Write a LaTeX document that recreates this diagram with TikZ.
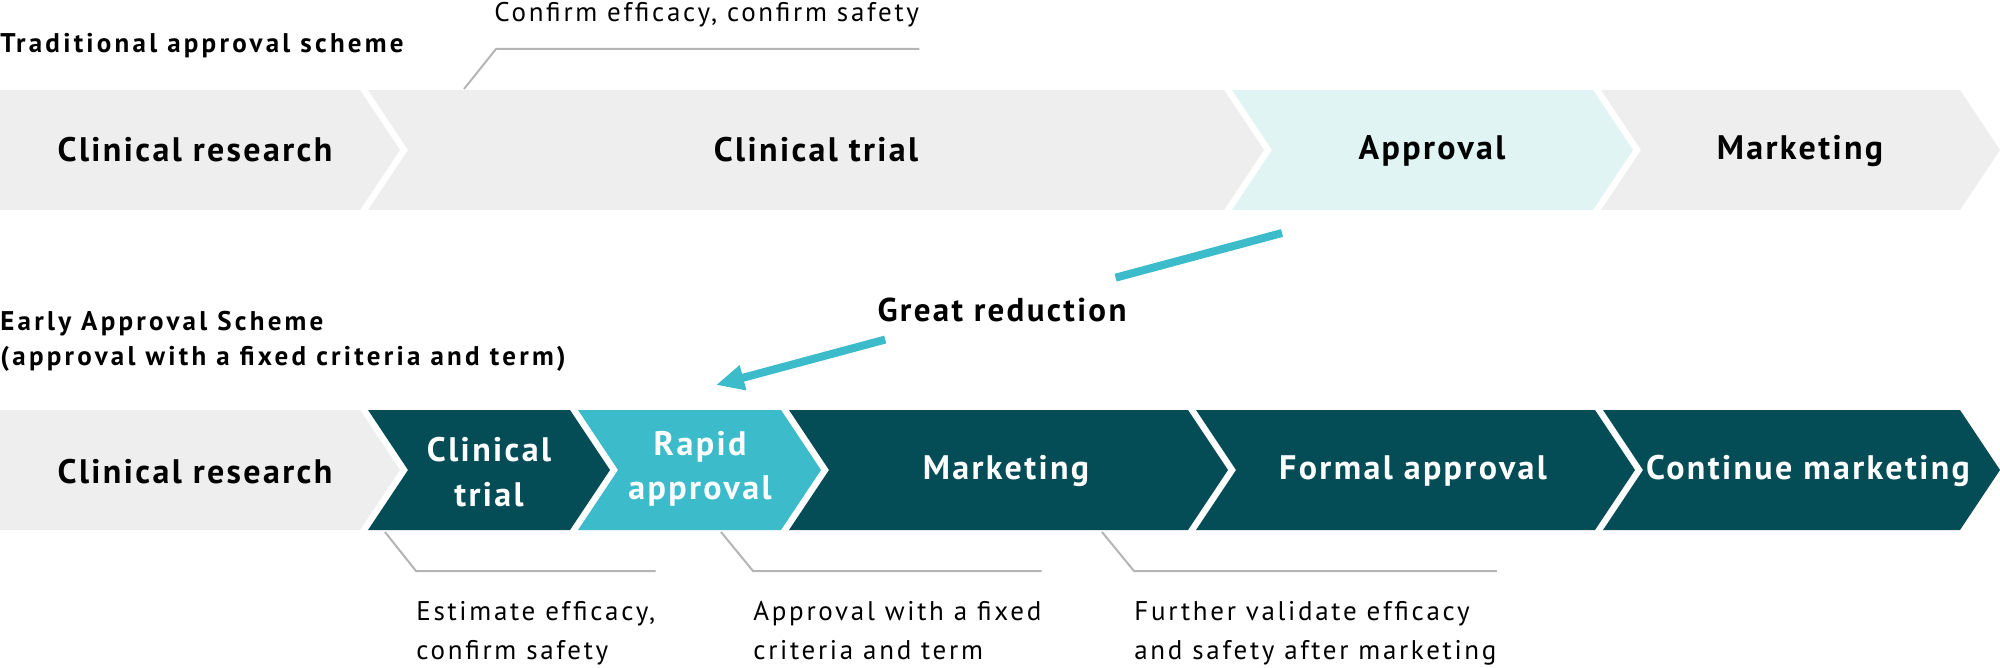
\documentclass[tikz,border=0pt]{standalone}
\usepackage{fontspec}
\setmainfont{PT Sans}
\newfontfamily\stepfont{PT Sans}[LetterSpace=7]
\newfontfamily\headfont{PT Sans}[LetterSpace=12]
\newfontfamily\notefont{PT Sans}[LetterSpace=10]
\usetikzlibrary{arrows.meta,calc}
\definecolor{stepgrey}{HTML}{EEEEEE}
\definecolor{steplight}{HTML}{E0F4F3}
\definecolor{stepdark}{HTML}{044C56}
\definecolor{stepcyan}{HTML}{3CBCCB}
\definecolor{leadergrey}{HTML}{B4B4B4}
% chevrons: left x, right x, middle y, colour
\newcommand{\chevfirst}[4]{\fill[#4] (#1,#3-60) -- (#2,#3-60) -- (#2+40,#3) -- (#2,#3+60) -- (#1,#3+60) -- cycle;}
\newcommand{\chevnext}[4]{\fill[#4] (#1,#3-60) -- (#2,#3-60) -- (#2+40,#3) -- (#2,#3+60) -- (#1,#3+60) -- (#1+40,#3) -- cycle;}
\begin{document}
\begin{tikzpicture}[x=0.5pt,y=-0.5pt,
  steptext/.style={font=\stepfont\bfseries\fontsize{17}{22.3}\selectfont,align=center,inner sep=0pt},
  headtext/.style={font=\headfont\bfseries\fontsize{13.5}{17.5}\selectfont,align=left,anchor=base west,inner sep=0pt},
  notetext/.style={font=\notefont\fontsize{13.5}{19.5}\selectfont,align=left,anchor=base west,inner sep=0pt},
  leader/.style={draw=leadergrey,line width=1pt}]
  \useasboundingbox (0,0) rectangle (2000,668);
  % traditional scheme
  \node[headtext] (trad) at (0,53) {Traditional approval scheme};
  \chevfirst{0}{360}{150}{stepgrey}
  \chevnext{368}{1224}{150}{stepgrey}
  \chevnext{1232}{1593}{150}{steplight}
  \chevnext{1601}{1960}{150}{stepgrey}
  \node[steptext,anchor=base] (tresearch) at (195,162) {Clinical research};
  \node[steptext,anchor=base] (ttrial) at (816,162) {Clinical trial};
  \node[steptext,anchor=base] (tapproval) at (1432,160) {Approval};
  \node[steptext,anchor=base] (tmarketing) at (1800,160) {Marketing};
  \node[notetext] (topnote) at (494,22) {Confirm efficacy, confirm safety};
  \coordinate (topfoot) at (464,89);
  \draw[leader] (topfoot) -- ++(32,-40) coordinate (topbend) -- (topbend -| topnote.east);
  % great reduction
  \coordinate (redfrom) at (1282,233);
  \coordinate (redto) at (716,385);
  \node[font=\stepfont\bfseries\fontsize{16.5}{20}\selectfont] (reduction) at (1002,310) {Great reduction};
  \draw[stepcyan,line width=4pt] (redfrom) -- ($(redfrom)!0.294!(redto)$);
  \draw[stepcyan,line width=4pt,-{Triangle[length=14pt,width=12pt]}] ($(redfrom)!0.701!(redto)$) -- (redto);
  % early approval scheme
  \node[headtext] (early) at (0,365) {Early Approval Scheme\\(approval with a fixed criteria and term)};
  \chevfirst{0}{360}{470}{stepgrey}
  \chevnext{368}{570}{470}{stepdark}
  \chevnext{578}{781}{470}{stepcyan}
  \chevnext{789}{1188}{470}{stepdark}
  \chevnext{1196}{1595}{470}{stepdark}
  \chevnext{1603}{1960}{470}{stepdark}
  \node[steptext,anchor=base] (bresearch) at (195,483) {Clinical research};
  \node[steptext,text=white] (btrial) at (489,472) {Clinical\\trial};
  \node[steptext,text=white] (brapid) at (700,469) {Rapid\\approval};
  \node[steptext,text=white,anchor=base] (bmarketing) at (1006,479) {Marketing};
  \node[steptext,text=white,anchor=base] (bformal) at (1413,479) {Formal approval};
  \node[steptext,text=white,anchor=base] (bcontinue) at (1808,479) {Continue marketing};
  \node[notetext] (note1) at (416,659) {Estimate efficacy,\\confirm safety};
  \node[notetext] (note2) at (753,659) {Approval with a fixed\\criteria and term};
  \node[notetext] (note3) at (1134,659) {Further validate efficacy\\and safety after marketing};
  \coordinate (foot1) at (385,532);
  \coordinate (foot2) at (721,532);
  \coordinate (foot3) at (1102,532);
  \draw[leader] (foot1) -- ++(31,39) coordinate (bend1) -- (bend1 -| note1.east);
  \draw[leader] (foot2) -- ++(32,39) coordinate (bend2) -- (bend2 -| note2.east);
  \draw[leader] (foot3) -- ++(32,39) coordinate (bend3) -- (bend3 -| note3.east);
\end{tikzpicture}
\end{document}
